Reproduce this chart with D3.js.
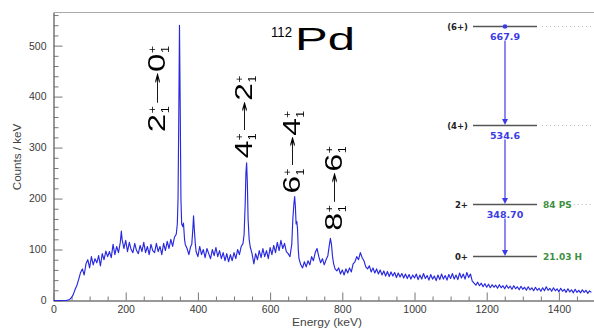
<!DOCTYPE html>
<html><head><meta charset="utf-8">
<script src="https://cdn.jsdelivr.net/npm/d3@7"></script>
<style>html,body{margin:0;padding:0;background:#fff}svg{display:block}</style>
</head><body><svg id="c" width="594" height="331"></svg>
<script>
// ---- data (energy keV, counts/keV) ----
const spectrum = [
[0,0],[5,0],[10,0],[15,0],[20,0],[25,0],[30,0],[35,0],[40,1],[45,2],[50,6],[55,12],[60,22],[65,30],[70,42],[75,55],[80,62],[85,50],[90,72],[95,80],
[100,64],[105,86],[110,70],[115,82],[120,74],[125,88],[130,68],[135,92],[140,80],[145,97],[150,86],[155,96],[160,84],[165,110],[170,90],[175,106],[180,94],[185,114],[188,136],[190,120],[195,102],
[200,118],[205,96],[210,114],[215,100],[220,94],[225,112],[230,98],[235,92],[240,108],[245,96],[250,114],[255,94],[260,106],[265,90],[270,110],[275,98],[280,94],[285,112],[290,96],[295,106],
[300,90],[305,112],[310,98],[315,116],[320,102],[325,120],[330,106],[335,124],[340,130],[343,150],[345,200],[347,360],[349,540],[351,380],[353,200],[355,150],[358,145],[360,152],[363,120],[365,110],[370,102],[375,90],[380,106],[383,110],[386,140],[388,166],[390,140],[393,110],[395,96],
[400,86],[405,106],[410,90],[415,100],[420,84],[425,102],[430,92],[435,82],[440,100],[445,88],[450,104],[455,86],[460,98],[465,82],[470,94],[475,78],[480,92],[485,76],[490,90],[495,78],
[500,94],[505,82],[510,100],[515,90],[520,106],[525,112],[528,130],[531,190],[533,250],[535,270],[537,230],[539,160],[542,120],[545,105],[550,92],[555,72],[560,92],[565,80],[570,98],[575,84],[580,102],[585,86],[590,98],[595,82],
[600,104],[605,90],[610,108],[615,94],[620,114],[625,98],[630,118],[635,102],[640,112],[645,96],[650,92],[655,86],[660,110],[663,160],[666,190],[668,204],[670,185],[672,150],[674,155],[676,140],[678,100],[680,82],[685,70],[690,64],[695,76],
[700,66],[705,78],[710,70],[715,86],[720,78],[725,94],[730,102],[735,86],[740,74],[745,82],[750,70],[755,80],[760,88],[764,108],[767,122],[770,110],[773,86],[776,72],[780,62],[785,58],[790,64],[795,52],
[800,60],[805,50],[810,62],[815,54],[820,64],[825,56],[830,72],[835,76],[840,86],[845,80],[850,94],[855,84],[860,78],[865,66],[870,62],[875,68],[880,56],[885,64],[890,54],[895,62],
[900,52],[905,60],[910,50],[915,58],[920,48],[925,57],[930,47],[935,56],[940,48],[945,55],[950,45],[955,54],[960,46],[965,53],[970,44],[975,52],[980,43],[985,51],[990,42],[995,50],
[1000,44],[1005,52],[1010,41],[1015,50],[1020,42],[1025,53],[1030,43],[1035,49],[1040,40],[1045,51],[1050,42],[1055,48],[1060,39],[1065,50],[1070,41],[1075,52],[1080,42],[1085,49],[1090,40],[1095,51],
[1100,43],[1105,53],[1110,42],[1115,50],[1120,41],[1125,54],[1130,44],[1135,52],[1140,42],[1145,55],[1150,45],[1155,52],[1160,38],[1165,34],[1170,30],[1175,36],[1180,29],[1185,34],[1190,27],[1195,33],
[1200,26],[1205,32],[1210,25],[1215,31],[1220,26],[1225,30],[1230,24],[1235,31],[1240,25],[1245,29],[1250,23],[1255,30],[1260,24],[1265,28],[1270,22],[1275,29],[1280,23],[1285,27],[1290,21],[1295,28],
[1300,22],[1305,26],[1310,20],[1315,27],[1320,21],[1325,25],[1330,19],[1335,26],[1340,20],[1345,24],[1350,18],[1355,25],[1360,19],[1365,27],[1370,20],[1375,24],[1380,18],[1385,25],[1390,19],[1395,23],
[1400,17],[1405,24],[1410,18],[1415,22],[1420,16],[1425,23],[1430,17],[1435,21],[1440,15],[1445,22],[1450,16],[1455,20],[1460,15],[1465,21],[1470,16],[1475,20],[1480,14],[1485,19],[1490,16]
];
const xMajorTicks = [0,200,400,600,800,1000,1200,1400];
const yMajorTicks = [0,100,200,300,400,500];
const titleMass = "112", titleElement = "Pd";
const xTitle = "Energy (keV)", yTitle = "Counts / keV";
// transition labels: initial state, final state, anchor (energy, counts)
const transitions = [
  {from:"2", to:"0", e:309, c:330, len:87},
  {from:"4", to:"2", e:550, c:279, len:83},
  {from:"6", to:"4", e:683, c:210, len:83},
  {from:"8", to:"6", e:799, c:137, len:85}
];
// level scheme
const levelSpins   = ["0+","2+","(4+)","(6+)"];
const levelEnergy  = [0, 348.70, 883.3, 1551.2];
const gammaLabels  = ["", "348.70", "534.6", "667.9"];
const halfLives    = ["21.03 H","84 PS","",""];

// ---- layout ----
const svg = d3.select("#c");
const X0 = 53.5, X1 = 595, Y0 = 300.5, Y1 = 12.5;
const x = d3.scaleLinear().domain([0,1500]).range([X0,X1]);
const y = d3.scaleLinear().domain([0,565]).range([Y0,Y1]);
const FONT = "'Liberation Sans', Arial, Helvetica, sans-serif";
const axisCol = "#777";

const defs = svg.append("defs");
defs.append("filter").attr("id","gray").append("feColorMatrix").attr("type","saturate").attr("values",0);

// frame (top line)
svg.append("line").attr("x1",X0).attr("x2",594).attr("y1",Y1).attr("y2",Y1)
   .attr("stroke","#aaa").attr("stroke-width",1);

// axes
const xMinor = d3.range(0,1501,50).filter(v=>!xMajorTicks.includes(v));
const yMinor = d3.range(0,561,20).filter(v=>!yMajorTicks.includes(v));
function styleAxis(g){
  g.selectAll("path").attr("stroke",axisCol);
  g.selectAll("line").attr("stroke",axisCol);
  g.selectAll("text").attr("fill","#3a3a3a").attr("font-family",FONT).attr("font-size",10.5);
}
svg.append("g").attr("transform",`translate(0,${Y0})`)
  .call(d3.axisBottom(x).tickValues(xMinor).tickSize(-4).tickSizeOuter(0).tickFormat(""))
  .call(styleAxis);
svg.append("g").attr("transform",`translate(0,${Y0})`)
  .call(d3.axisBottom(x).tickValues(xMajorTicks).tickSize(-8).tickSizeOuter(0).tickPadding(5).tickFormat(d3.format("d")))
  .call(styleAxis);
svg.append("g").attr("transform",`translate(${X0},0)`)
  .call(d3.axisLeft(y).tickValues(yMinor).tickSize(-5).tickSizeOuter(0).tickFormat(""))
  .call(styleAxis);
svg.append("g").attr("transform",`translate(${X0},0)`)
  .call(d3.axisLeft(y).tickValues(yMajorTicks).tickSize(-9).tickSizeOuter(0).tickPadding(7).tickFormat(d3.format("d")))
  .call(styleAxis);

// stretch helper
function fit(sel, target){ const w = sel.node().getBBox().width; return target / w; }

// axis titles
{
  const t = svg.append("text").attr("font-family",FONT).attr("font-size",10).attr("fill","#444")
    .attr("text-anchor","middle").text(xTitle);
  const k = fit(t,70);
  t.attr("transform",`translate(327,326) scale(${k},1)`);
  const u = svg.append("text").attr("font-family",FONT).attr("font-size",10).attr("fill","#444")
    .attr("text-anchor","middle").text(yTitle);
  const k2 = fit(u,67);
  u.attr("transform",`translate(21,157) rotate(-90) scale(${k2},1)`);
}

// spectrum
svg.append("clipPath").attr("id","clip").append("rect")
  .attr("x",X0).attr("y",Y1).attr("width",X1-X0).attr("height",Y0-Y1+1);
svg.append("path").datum(spectrum)
  .attr("clip-path","url(#clip)")
  .attr("fill","none").attr("stroke","#2828e0").attr("stroke-width",1.15)
  .attr("stroke-linejoin","round")
  .attr("d", d3.line().x(d=>x(d[0])).y(d=>y(d[1])));

// title
{
  const m = svg.append("text").attr("font-family",FONT).attr("font-size",15).attr("fill","#000").text(titleMass);
  const km = fit(m,21);
  m.attr("transform",`translate(271,37) scale(${km},1)`);
  const p = svg.append("text").attr("font-family",FONT).attr("font-size",31).attr("fill","#000").text(titleElement);
  const k = fit(p,60);
  p.attr("transform",`translate(295,50) scale(${k},1)`);
}

// transition labels (rotated)
transitions.forEach(t=>{
  const outer = svg.append("g").attr("filter","url(#gray)");
  const g = outer.append("g");
  let cx = 0;
  function piece(s, size, yy, w, fam){
    const tx = g.append("text").attr("font-family",fam||FONT).attr("font-size",size).attr("fill","#000").text(s);
    const nat = tx.node().getComputedTextLength();
    tx.attr("transform",`translate(${cx},${yy}) scale(${w/nat},1)`);
    return w;
  }
  function main(s, w){ cx += piece(s,23,0,w) + 0.5; }
  function arrow(w){ cx += piece("\u2192",11,-4,w,"'DejaVu Sans', sans-serif"); }
  function supsub(sup,sub){
    piece(sup,11,-9,7);
    piece(sub,11,4,7);
    cx += 7.5;
  }
  main(t.from,18); supsub("+","1"); arrow(33); main(t.to,18); supsub("+","1");
  const k = t.len / cx;
  g.attr("transform",`translate(${x(t.e)},${y(t.c)}) rotate(-90) scale(${k},1)`);
});

// level scheme
{
  const ly = d3.scaleLinear().domain([0,1551.2]).range([256,26]);
  const lx0 = 473, lx1 = 537, ax = 505;
  const SF = "'DejaVu Sans', Verdana, sans-serif";
  const blue = "#3b3be6", green = "#3f8f3f";
  levelEnergy.forEach((E,i)=>{
    const yy = Math.round(ly(E))+0.5;
    svg.append("line").attr("x1",lx0).attr("x2",lx1).attr("y1",yy).attr("y2",yy)
      .attr("stroke","#555").attr("stroke-width",1.5);
    svg.append("text").attr("x",468).attr("y",yy+3.5).attr("text-anchor","end")
      .attr("font-family",SF).attr("font-weight","bold").attr("font-size",8.5).attr("fill","#222")
      .text(levelSpins[i]);
    if (halfLives[i]) {
      const t = svg.append("text").attr("x",543).attr("y",yy+3.5)
        .attr("font-family",SF).attr("font-weight","bold").attr("font-size",9).attr("fill",green)
        .text(halfLives[i]);
      if (i>0) {
        const w = t.node().getComputedTextLength();
        svg.append("line").attr("x1",543+w+2).attr("x2",592).attr("y1",yy).attr("y2",yy)
          .attr("stroke","#bbb").attr("stroke-dasharray","1,3");
      }
    } else {
      svg.append("line").attr("x1",542).attr("x2",592).attr("y1",yy).attr("y2",yy)
        .attr("stroke","#bbb").attr("stroke-dasharray","1,3");
    }
    if (i>0) {
      const yEnd = Math.round(ly(levelEnergy[i-1]));
      svg.append("line").attr("x1",ax).attr("x2",ax).attr("y1",yy+14).attr("y2",yEnd-4)
        .attr("stroke",blue).attr("stroke-width",1.2);
      svg.append("path").attr("d",`M${ax-3},${yEnd-6}L${ax+3},${yEnd-6}L${ax},${yEnd}Z`).attr("fill",blue);
      svg.append("text").attr("x",ax).attr("y",yy+13.5).attr("text-anchor","middle")
        .attr("font-family",SF).attr("font-weight","bold").attr("font-size",9.5).attr("fill",blue)
        .text(gammaLabels[i]);
    }
    if (i===levelEnergy.length-1) {
      svg.append("circle").attr("cx",ax).attr("cy",yy).attr("r",2.3).attr("fill",blue);
    }
  });
}
</script></body></html>
